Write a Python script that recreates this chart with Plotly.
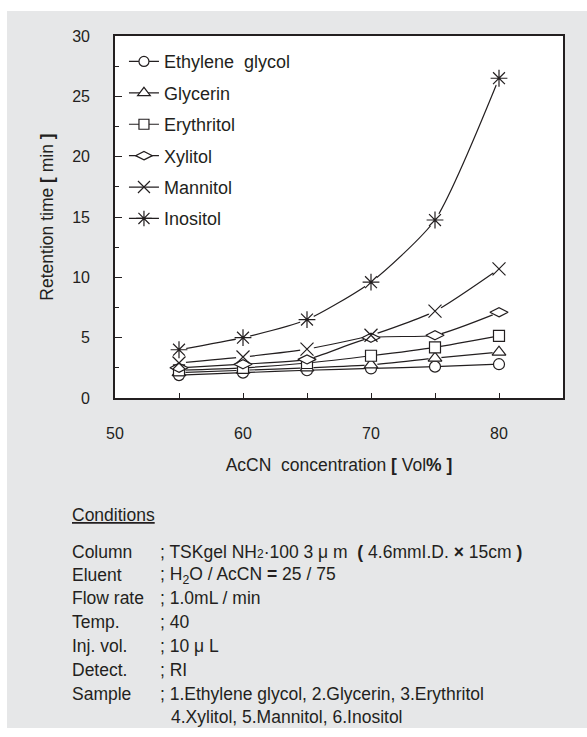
import plotly.graph_objects as go

# AcCN concentration (Vol%)
acn = [55, 60, 65, 70, 75, 80]

# Retention time (min) for each sugar alcohol
ethylene_glycol = [1.9, 2.1, 2.3, 2.45, 2.6, 2.8]
glycerin = [2.1, 2.3, 2.5, 2.75, 3.3, 3.8]
erythritol = [2.3, 2.5, 2.9, 3.5, 4.2, 5.15]
xylitol = [2.5, 2.8, 3.2, 5.0, 5.2, 7.1]
mannitol = [2.9, 3.4, 4.05, 5.2, 7.2, 10.7]
inositol = [4.0, 5.0, 6.5, 9.6, 14.75, 26.5]

names = ["Ethylene  glycol", "Glycerin", "Erythritol", "Xylitol", "Mannitol", "Inositol"]
series = [ethylene_glycol, glycerin, erythritol, xylitol, mannitol, inositol]
symbols = ["circle", "triangle-up", "square", "diamond-wide", "x-thin", "asterisk"]
sizes = [11, 12, 11, 13, 13, 14]
line_only = [False, False, False, False, True, True]

y_ticks = [0, 5, 10, 15, 20, 25, 30]
x_ticks = [50, 60, 70, 80]

INK = "#231f20"
PANEL = "#e6e7e8"
FONT = "Liberation Sans, Arial, sans-serif"

W, H = 587, 737
L, R, T, B = 115, 24, 36, 339
PW, PH = W - L - R, H - T - B


def px(x):
    return (x - L) / PW


def py(y):
    return (H - B - y) / PH


def marker_style(sym, sz, open_line):
    fill = INK if open_line else "white"
    return dict(symbol=sym, size=sz, color=fill, line=dict(color=INK, width=1.2))


fig = go.Figure()

# connecting curves
for name, ys in zip(names, series):
    fig.add_trace(go.Scatter(
        x=acn, y=ys, mode="lines", showlegend=False, hoverinfo="skip",
        line=dict(color=INK, width=1.2, shape="spline", smoothing=0.6),
    ))

# white halos so the curves stop short of each marker
for ys, sz in zip(series, sizes):
    fig.add_trace(go.Scatter(
        x=acn, y=ys, mode="markers", showlegend=False, hoverinfo="skip",
        marker=dict(symbol="circle", size=sz, color="white",
                    line=dict(color="white", width=1)),
    ))

# markers
for name, ys, sym, sz, lo in zip(names, series, symbols, sizes, line_only):
    fig.add_trace(go.Scatter(
        x=acn, y=ys, mode="markers", name=name, showlegend=False,
        marker=marker_style(sym, sz, lo),
    ))

# legend entries (line + marker sample)
for i, (name, sym, sz, lo) in enumerate(zip(names, symbols, sizes, line_only)):
    fig.add_trace(go.Scatter(
        x=[None], y=[None], mode="lines+markers", name=name,
        legendgroup=f"g{i}",
        line=dict(color=INK, width=1.2),
        marker=marker_style(sym, sz - 1, lo),
    ))

axis_common = dict(
    showline=True, linecolor=INK, linewidth=1.6, mirror=True,
    showgrid=False, zeroline=False, ticks="inside", tickcolor=INK,
    tickwidth=1.4, tickfont=dict(size=16, color=INK, family=FONT),
)

fig.update_xaxes(
    **axis_common, range=[50, 85], tickvals=x_ticks, ticklen=5,
    minor=dict(tickvals=[55, 65, 75], ticks="inside", ticklen=5,
               tickcolor=INK, tickwidth=1.4),
    ticklabelstandoff=20,
    title=dict(text="AcCN  concentration <b>[</b> Vol<b>%</b> <b>]</b>",
               font=dict(size=17.5, color=INK, family=FONT), standoff=18),
)
fig.update_yaxes(
    **axis_common, range=[0, 30], tickvals=y_ticks, ticklen=7,
    minor=dict(dtick=2.5, ticks="inside", ticklen=4,
               tickcolor=INK, tickwidth=1.4),
    ticklabelstandoff=20,
    title=dict(text="Retention time <b>[</b> min <b>]</b>",
               font=dict(size=17.5, color=INK, family=FONT), standoff=14),
)

shapes = [
    dict(type="rect", xref="paper", yref="paper", layer="below",
         x0=px(7), x1=px(587), y0=py(728), y1=py(11),
         fillcolor=PANEL, line=dict(width=0)),
    dict(type="rect", xref="paper", yref="paper", layer="below",
         x0=0, x1=1, y0=0, y1=1, fillcolor="white", line=dict(width=0)),
]

# conditions block
cond_font = dict(size=17.5, color=INK, family=FONT)
annotations = [
    dict(text="<u>Conditions</u>", x=px(70), y=py(515), xref="paper", yref="paper",
         xanchor="left", yanchor="middle", showarrow=False, font=cond_font),
]
labels = ["Column", "Eluent", "Flow rate", "Temp.", "Inj. vol.", "Detect.", "Sample", ""]
values = [
    "; TSKgel NH<span style='font-size:12px'>2</span>·100 3 μ m  "
    "<b>(</b> 4.6mmI.D. <b>×</b> 15cm <b>)</b>",
    "; H<sub>2</sub>O / AcCN <b>=</b> 25 / 75",
    "; 1.0mL / min",
    "; 40",
    "; 10 μ L",
    "; RI",
    "; 1.Ethylene glycol, 2.Glycerin, 3.Erythritol",
    "4.Xylitol, 5.Mannitol, 6.Inositol",
]
value_x = [158, 158, 158, 158, 158, 158, 158, 169]
row_y = [552, 575, 598, 622, 646, 670, 694, 717]
for lab, val, vx, yy in zip(labels, values, value_x, row_y):
    if lab:
        annotations.append(dict(text=lab, x=px(70), y=py(yy), xref="paper", yref="paper",
                                xanchor="left", yanchor="middle", showarrow=False,
                                font=cond_font))
    annotations.append(dict(text=val, x=px(vx), y=py(yy), xref="paper", yref="paper",
                            xanchor="left", yanchor="middle", showarrow=False,
                            font=cond_font))

fig.update_layout(
    width=W, height=H,
    margin=dict(l=L, r=R, t=T, b=B, autoexpand=False),
    paper_bgcolor="white", plot_bgcolor="white",
    font=dict(family=FONT, color=INK, size=16),
    shapes=shapes, annotations=annotations,
    legend=dict(x=0.02, y=0.98, xanchor="left", yanchor="top",
                bgcolor="rgba(0,0,0,0)", font=dict(size=18, color=INK, family=FONT),
                tracegroupgap=5, itemwidth=30),
    showlegend=True,
)

fig.write_html("out.html")
